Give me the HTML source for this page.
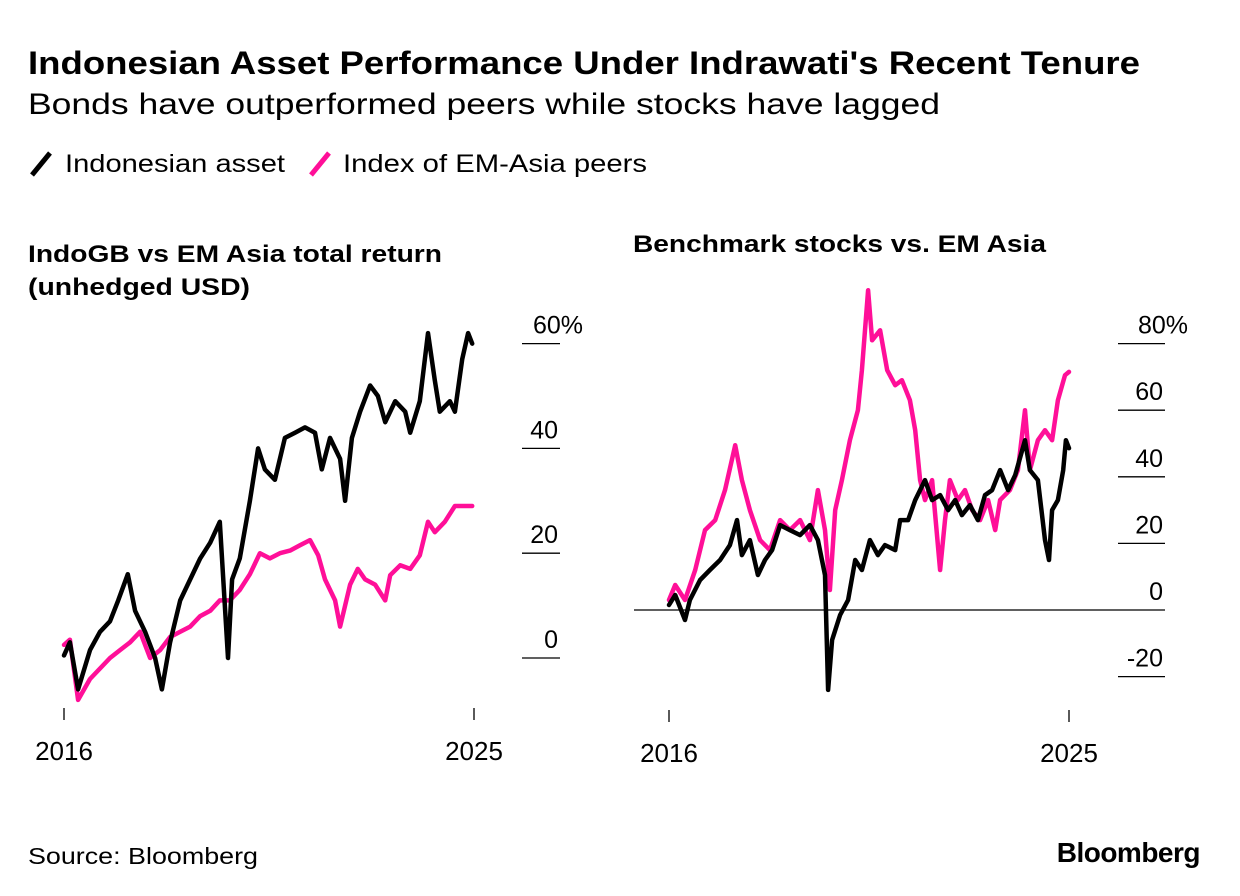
<!DOCTYPE html>
<html><head><meta charset="utf-8">
<style>
body{margin:0;background:#fff;}
svg{display:block;font-family:"Liberation Sans",Arial,sans-serif;}
</style></head>
<body>
<svg id="chart" width="1240" height="896" viewBox="0 0 1240 896">
<text x="28" y="74" font-size="32" font-weight="bold" fill="#000" textLength="1112" lengthAdjust="spacingAndGlyphs">Indonesian Asset Performance Under Indrawati's Recent Tenure</text>
<text x="28" y="114" font-size="30" fill="#000" textLength="912" lengthAdjust="spacingAndGlyphs">Bonds have outperformed peers while stocks have lagged</text>
<g>
<line x1="32" y1="175" x2="50" y2="153" stroke="#000" stroke-width="5"/>
<text x="65" y="172" font-size="25" textLength="220" lengthAdjust="spacingAndGlyphs">Indonesian asset</text>
<line x1="311" y1="175" x2="329" y2="153" stroke="#ff0f98" stroke-width="5"/>
<text x="343" y="172" font-size="25" textLength="304" lengthAdjust="spacingAndGlyphs">Index of EM-Asia peers</text>
</g>
<text x="28" y="262" font-size="24" font-weight="bold" textLength="414" lengthAdjust="spacingAndGlyphs">IndoGB vs EM Asia total return</text>
<text x="28" y="295" font-size="24" font-weight="bold" textLength="222" lengthAdjust="spacingAndGlyphs">(unhedged USD)</text>
<text x="633" y="252" font-size="24" font-weight="bold" textLength="413" lengthAdjust="spacingAndGlyphs">Benchmark stocks vs. EM Asia</text>
<g id="left"></g>
<g id="right"></g>
<text x="28" y="864" font-size="23" textLength="230" lengthAdjust="spacingAndGlyphs">Source: Bloomberg</text>
<text x="1200" y="862" font-size="28" font-weight="bold" text-anchor="end" letter-spacing="-0.5">Bloomberg</text>
</svg>
<script>
const leftTicks=[0,20,40,60];
const leftTickLabels=["0","20","40","60%"];
const rightTicks=[-20,0,20,40,60,80];
const rightTickLabels=["-20","0","20","40","60","80%"];
const xTickYears=[2016,2025];
const xTickLabels=["2016","2025"];

const bondDates=[2016,2016.13,2016.31,2016.57,2016.79,2017.01,2017.19,2017.40,2017.56,2017.78,2018.00,2018.15,2018.33,2018.55,2018.77,2018.99,2019.21,2019.42,2019.60,2019.69,2019.86,2020.08,2020.26,2020.41,2020.63,2020.85,2021.07,2021.29,2021.51,2021.66,2021.84,2022.06,2022.17,2022.32,2022.50,2022.72,2022.89,2023.05,2023.27,2023.49,2023.60,2023.81,2023.99,2024.14,2024.25,2024.47,2024.58,2024.74,2024.87,2024.96];
const bondIndo=[0.5,3,-6,1.5,5,7,11,16,9,5,0,-6,3,11,15,19,22,26,0,15,19,30,40,36,34,42,43,44,43,36,42,38,30,42,47,52,50,45,49,47,43,49,62,53,47,49,47,57,62,60];
const bondPeerDates=[2016,2016.13,2016.31,2016.57,2016.79,2017.01,2017.23,2017.45,2017.67,2017.89,2018.11,2018.33,2018.55,2018.77,2018.99,2019.21,2019.42,2019.64,2019.86,2020.08,2020.30,2020.52,2020.74,2020.96,2021.18,2021.40,2021.58,2021.73,2021.95,2022.06,2022.28,2022.45,2022.61,2022.83,2023.05,2023.16,2023.38,2023.60,2023.81,2023.99,2024.14,2024.36,2024.58,2024.80,2024.96];
const bondPeer=[2.5,3.5,-8,-4,-2,0,1.5,3,5,0,1.5,4,5,6,8,9,11,11,13,16,20,19,20,20.5,21.5,22.5,19.6,15,11,6,14,17,15,14,11,15.8,17.7,17,19.6,26,24,26,29,29,29];

const stockDates=[2016,2016.14,2016.36,2016.47,2016.70,2016.92,2017.15,2017.37,2017.53,2017.64,2017.82,2018.00,2018.16,2018.32,2018.50,2018.72,2018.95,2019.17,2019.35,2019.51,2019.58,2019.67,2019.85,2020.03,2020.19,2020.34,2020.52,2020.70,2020.86,2021.09,2021.20,2021.38,2021.54,2021.76,2021.92,2022.10,2022.28,2022.44,2022.59,2022.77,2022.95,2023.11,2023.27,2023.45,2023.63,2023.79,2024.01,2024.12,2024.30,2024.46,2024.55,2024.62,2024.75,2024.87,2024.93,2025];
const stockIndo=[1.5,4.5,-3,3,9,12,15,19.5,27,16.5,21,10.5,15,18,25.5,24,22.5,25.5,21,10.5,-24,-9,-1.5,3,15,12,21,16.5,19.5,18,27,27,33,39,33,34.5,30,33,28.5,31.5,27,34.5,36,42,36,40.5,51,42,39,21,15,30,33,42,51,48.6];
const stockPeerDates=[2016,2016.14,2016.36,2016.59,2016.81,2017.04,2017.26,2017.49,2017.64,2017.82,2018.05,2018.27,2018.50,2018.72,2018.95,2019.17,2019.35,2019.51,2019.62,2019.74,2019.89,2020.07,2020.25,2020.34,2020.48,2020.57,2020.75,2020.91,2021.09,2021.24,2021.42,2021.54,2021.65,2021.76,2021.92,2022.10,2022.21,2022.32,2022.50,2022.66,2022.82,2023.00,2023.18,2023.34,2023.45,2023.67,2023.85,2024.01,2024.12,2024.30,2024.46,2024.62,2024.75,2024.91,2025];
const stockPeer=[3,7.5,3,12,24,27,36,49.5,39,30,21,18,27,24,27,21,36,24,6,30,39,51,60,72,96,81,84,72,67.5,69,63,54,39,33,39,12,27,39,33,36,30,27,33,24,33,36,42,60,42,51,54,51,63,70.5,71.5];

const NS="http://www.w3.org/2000/svg";
function mk(parent,tag,attrs){const e=document.createElementNS(NS,tag);for(const k in attrs)e.setAttribute(k,attrs[k]);parent.appendChild(e);return e;}

function panel(g,cfg){
  const xs=y=>cfg.x0+(y-2016)/9*(cfg.x1-cfg.x0);
  const ys=v=>cfg.yZero-v*cfg.pxPer;
  cfg.ticks.forEach((t,i)=>{
    const l=mk(g,'line',{x1:cfg.tx0,x2:cfg.tx1,y1:ys(t),y2:ys(t),stroke:'#000','stroke-width':1.3});
    
    
    const lab=cfg.labels[i];
    const tx=mk(g,'text',{x:lab.endsWith('%')?cfg.tx1+23:cfg.tx1-2,y:ys(t)-10,'font-size':25,'text-anchor':'end'});
    tx.textContent=lab;
    
    
  });
  if(cfg.zeroLine){
    const z=mk(g,'line',{x1:cfg.zx0,x2:cfg.tx0,y1:ys(0),y2:ys(0),stroke:'#000','stroke-width':1.3});
    
    
  }
  xTickYears.forEach((yr,i)=>{
    const l=mk(g,'line',{x1:xs(yr),x2:xs(yr),y1:cfg.xTickY,y2:cfg.xTickY+12,stroke:'#000','stroke-width':1.3});
    
    
    const t=mk(g,'text',{x:xs(yr),y:cfg.xTickY+52,'font-size':26,'text-anchor':'middle'});
    t.textContent=xTickLabels[i];
    
    
  });
  cfg.series.forEach(s=>{
    const d=s.dates.map((dt,i)=>(i?'L':'M')+xs(dt).toFixed(1)+','+ys(s.vals[i]).toFixed(1)).join('');
    const p=mk(g,'path',{d:d,fill:'none',stroke:s.color,'stroke-width':4.5,'stroke-linejoin':'round','stroke-linecap':'round'});
    
    
  });
}
panel(document.getElementById('left'),{x0:64,x1:474,yZero:658,pxPer:5.24,tx0:522,tx1:560,ticks:leftTicks,labels:leftTickLabels,xTickY:708,
  series:[{dates:bondPeerDates,vals:bondPeer,color:'#ff0f98',name:'line-bond-peers'},{dates:bondDates,vals:bondIndo,color:'#000',name:'line-bond-indonesia'}]});
panel(document.getElementById('right'),{x0:669,x1:1069,yZero:610,pxPer:3.33,tx0:1118,tx1:1165,ticks:rightTicks,labels:rightTickLabels,xTickY:710,zeroLine:true,zx0:634,
  series:[{dates:stockPeerDates,vals:stockPeer,color:'#ff0f98',name:'line-stock-peers'},{dates:stockDates,vals:stockIndo,color:'#000',name:'line-stock-indonesia'}]});
</script>
</body></html>
